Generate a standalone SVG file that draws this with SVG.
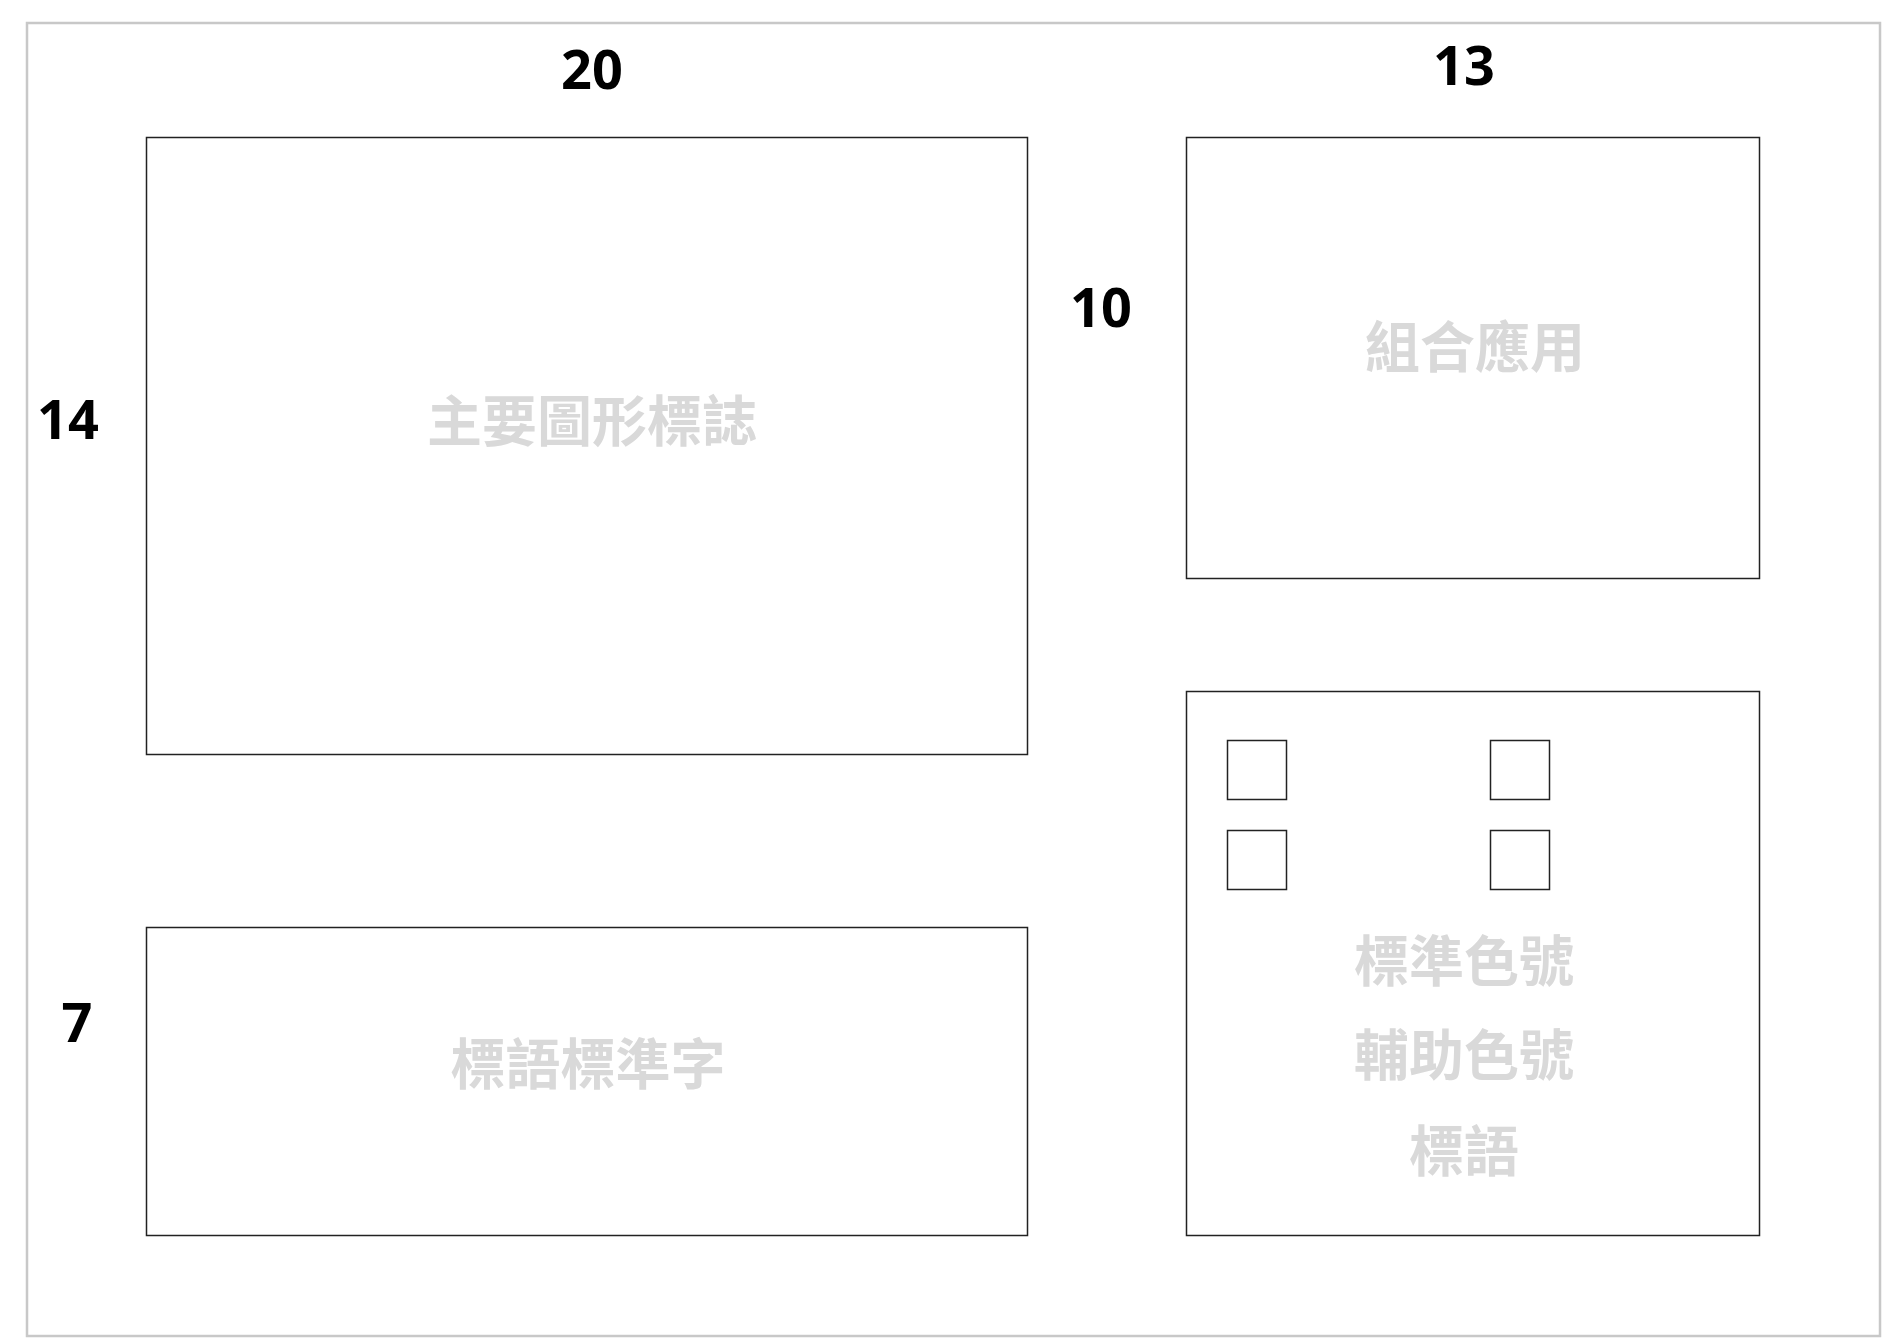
<svg xmlns="http://www.w3.org/2000/svg" width="1883" height="1339" viewBox="0 0 1883 1339">
<style>
.box{fill:#fff;stroke:#222;stroke-width:1.5}
.num{font-family:"Open Sans","Noto Sans",sans-serif;font-weight:bold;font-size:54px;fill:#000;text-anchor:middle}
.lbl{font-family:"Noto Sans CJK TC","Noto Sans CJK SC",sans-serif;font-weight:bold;font-size:55px;fill:#d9d9d9;text-anchor:middle}
</style>
<rect width="1883" height="1339" fill="#fff"/>
<rect x="27" y="23" width="1853" height="1313" fill="none" stroke="#c8c8c8" stroke-width="2.5"/>
<g id="main-logo"><rect class="box" x="146.5" y="137.5" width="881" height="617"/><text class="lbl" x="592" y="441">主要圖形標誌</text></g>
<g id="combo"><rect class="box" x="1186.5" y="137.5" width="573" height="441"/><text class="lbl" x="1475" y="367">組合應用</text></g>
<g id="slogan"><rect class="box" x="146.5" y="927.5" width="881" height="308"/><text class="lbl" x="588" y="1084">標語標準字</text></g>
<g id="colors"><rect class="box" x="1186.5" y="691.5" width="573" height="544"/>
<rect class="box" x="1227.5" y="740.5" width="59" height="59"/><rect class="box" x="1490.5" y="740.5" width="59" height="59"/>
<rect class="box" x="1227.5" y="830.5" width="59" height="59"/><rect class="box" x="1490.5" y="830.5" width="59" height="59"/>
<text class="lbl" x="1464" y="981">標準色號</text><text class="lbl" x="1464" y="1075">輔助色號</text><text class="lbl" x="1464" y="1171">標語</text></g>
<g id="dims">
<text class="num" x="592" y="89">20</text><text class="num" x="1464" y="85">13</text>
<text class="num" x="1101" y="327">10</text><text class="num" x="68" y="439">14</text><text class="num" x="77" y="1042">7</text>
</g>
</svg>
